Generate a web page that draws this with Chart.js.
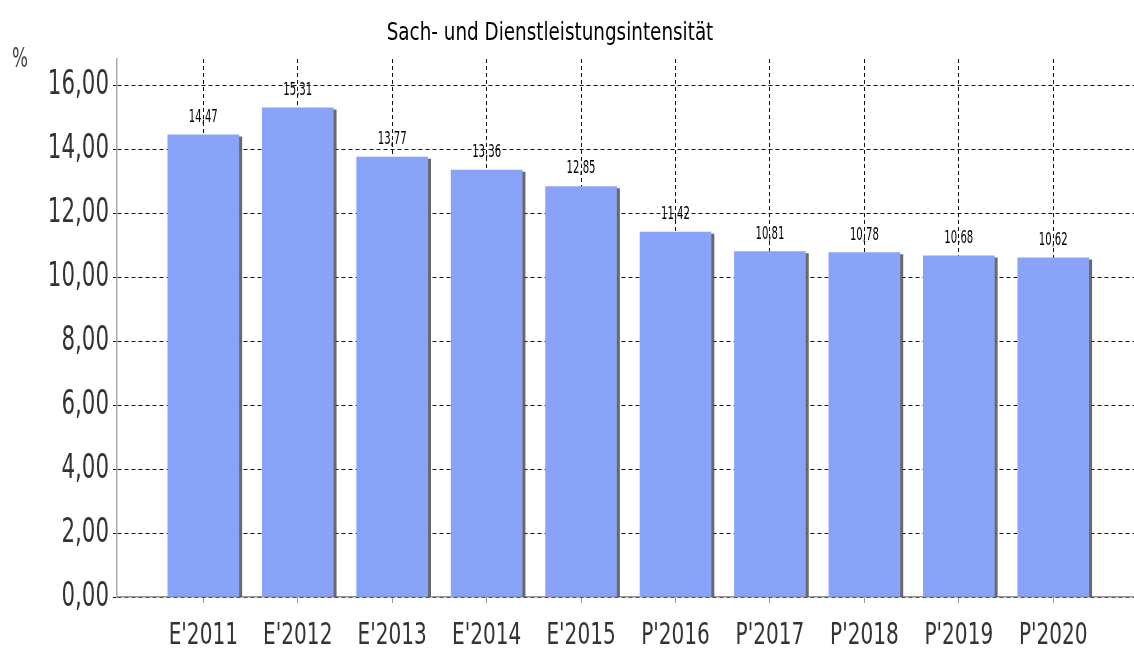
<!DOCTYPE html>
<html>
<head>
<meta charset="utf-8">
<script src="https://cdn.jsdelivr.net/npm/chart.js@4.4.1/dist/chart.umd.min.js"></script>
<style>
html,body{margin:0;padding:0;background:#fff;}
#wrap{width:1134px;height:653px;position:relative;}
</style>
</head>
<body>
<div id="wrap"><canvas id="c" width="1134" height="653"></canvas></div>
<script>
const categories = ["E'2011","E'2012","E'2013","E'2014","E'2015","P'2016","P'2017","P'2018","P'2019","P'2020"];
const values = [14.47, 15.31, 13.77, 13.36, 12.85, 11.42, 10.81, 10.78, 10.68, 10.62];
const yTicks = [0, 2, 4, 6, 8, 10, 12, 14, 16];
const titleText = "Sach- und Dienstleistungsintensität";
const unitText = "%";

const FONT = '"DejaVu Sans Condensed", "DejaVu Sans", sans-serif';
const fmt = v => v.toFixed(2).replace('.', ',');

const points = values.map((v, i) => ({x: i, y: v}));

// narrow text: squeeze horizontally via fillText maxWidth
let origFill = null;
function squeeze(ctx, factor) {
  origFill = origFill || ctx.fillText;
  ctx.fillText = function (t, x, y, mw) {
    const w = this.measureText(t).width * factor;
    origFill.call(this, t, x, y, mw !== undefined ? Math.min(mw, w) : w);
  };
}
function unsqueeze(ctx) {
  if (origFill) ctx.fillText = origFill;
}
function narrowText(ctx, t, x, y, factor) {
  const w = ctx.measureText(t).width * factor;
  ctx.fillText(t, x, y, w);
}

const squeezePlugin = {
  id: 'squeeze',
  beforeDraw(chart) { squeeze(chart.ctx, 0.72); },
  beforeDatasetsDraw(chart) {
    const ctx = chart.ctx;
    unsqueeze(ctx);
    ctx.save();
    ctx.shadowColor = 'rgba(90,90,90,0.9)';
    ctx.shadowOffsetX = 3;
    ctx.shadowOffsetY = 2;
    ctx.shadowBlur = 0;
  },
  afterDatasetsDraw(chart) {
    chart.ctx.restore();
  }
};

const labelsPlugin = {
  id: 'valueLabels',
  afterDraw(chart) {
    const ctx = chart.ctx;
    unsqueeze(ctx);
    ctx.save();
    ctx.fillStyle = '#000';
    ctx.font = '17px ' + FONT;
    ctx.textAlign = 'center';
    ctx.textBaseline = 'bottom';
    const meta = chart.getDatasetMeta(0);
    meta.data.forEach((bar, i) => {
      narrowText(ctx, fmt(values[i]), bar.x, bar.y - 9, 0.66);
    });
    // title
    ctx.font = '24px ' + FONT;
    ctx.fillStyle = '#000';
    ctx.textBaseline = 'alphabetic';
    narrowText(ctx, titleText, 550, 40, 0.85);
    // unit
    ctx.font = '26px ' + FONT;
    ctx.fillStyle = '#444';
    ctx.textAlign = 'left';
    narrowText(ctx, unitText, 12, 67, 0.72);
    ctx.restore();
  }
};

new Chart(document.getElementById('c'), {
  type: 'bar',
  data: {
    datasets: [{
      data: points,
      backgroundColor: '#88a3f7',
      borderWidth: 0,
      barThickness: 71
    }]
  },
  options: {
    responsive: false,
    animation: false,
    devicePixelRatio: 1,
    layout: { padding: { top: 59, right: 0, left: 0, bottom: 0 } },
    plugins: { legend: { display: false }, tooltip: { enabled: false }, title: { display: false } },
    scales: {
      x: {
        type: 'linear',
        min: -0.914,
        max: 9.855,
        offset: false,
        afterFit(scale) { scale.height = 56; },
        ticks: {
          stepSize: 1,
          includeBounds: false,
          autoSkip: false,
          maxRotation: 0,
          padding: 14,
          color: '#333',
          font: { family: FONT, size: 31 },
          callback: v => categories[v] !== undefined ? categories[v] : ''
        },
        grid: {
          offset: false,
          color: '#111',
          lineWidth: 1,
          drawTicks: true,
          tickLength: 6,
          tickColor: '#999',
          tickBorderDash: []
        },
        border: { display: true, color: '#999', width: 1.5, dash: [4, 3] }
      },
      y: {
        min: 0,
        max: 16.84,
        afterFit(scale) { scale.width = 117; },
        afterBuildTicks(scale) { scale.ticks = yTicks.map(v => ({value: v})); },
        ticks: {
          padding: 4,
          color: '#333',
          font: { family: FONT, size: 33 },
          callback: v => fmt(v)
        },
        grid: {
          color: '#111',
          lineWidth: 1,
          drawTicks: true,
          tickLength: 4,
          tickBorderDash: [4, 3]
        },
        border: { display: true, color: '#aaa', width: 1.5, dash: [4, 3] }
      }
    }
  },
  plugins: [squeezePlugin, labelsPlugin]
});
</script>
</body>
</html>
